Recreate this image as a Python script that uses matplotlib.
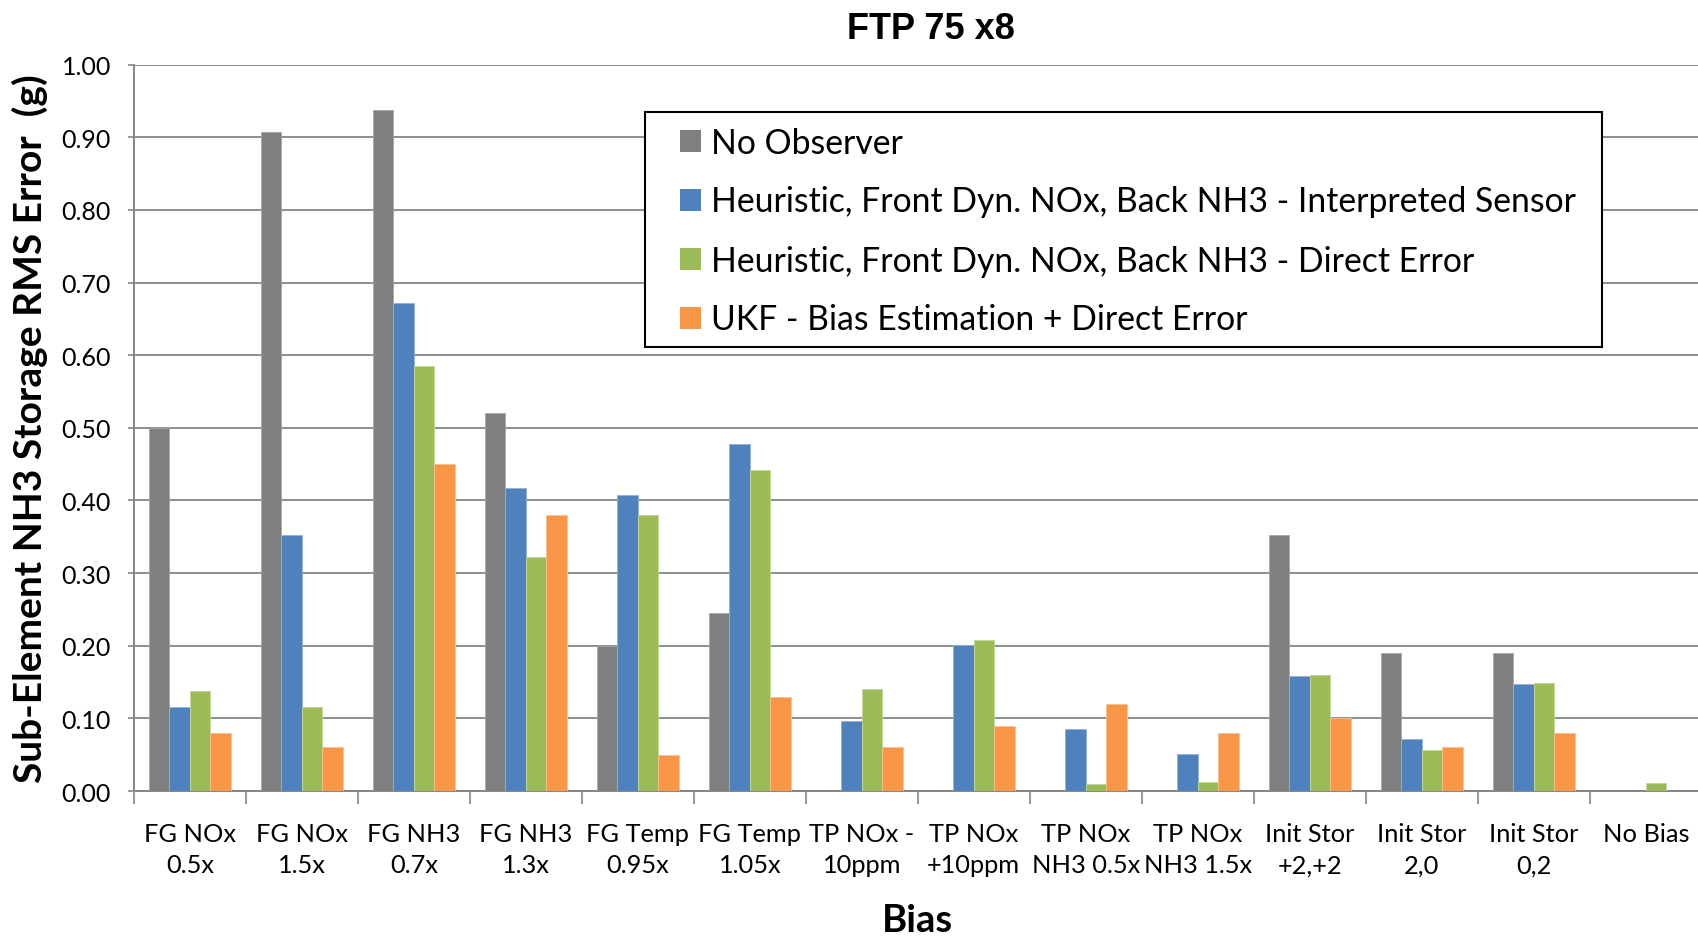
import numpy as np
import matplotlib
matplotlib.use("Agg")
import matplotlib.pyplot as plt
from matplotlib.patches import Patch, Rectangle

plt.rcParams['font.family'] = ['Lato', 'DejaVu Sans']

categories = ["FG NOx\n0.5x", "FG NOx\n1.5x", "FG NH3\n0.7x", "FG NH3\n1.3x",
              "FG Temp\n0.95x", "FG Temp\n1.05x", "TP NOx -\n10ppm", "TP NOx\n+10ppm",
              "TP NOx\nNH3 0.5x", "TP NOx\nNH3 1.5x", "Init Stor\n+2,+2", "Init Stor\n2,0",
              "Init Stor\n0,2", "No Bias"]
series = ["No Observer",
          "Heuristic, Front Dyn. NOx, Back NH3 - Interpreted Sensor",
          "Heuristic, Front Dyn. NOx, Back NH3 - Direct Error",
          "UKF - Bias Estimation + Direct Error"]
no_observer = [0.50, 0.907, 0.937, 0.521, 0.20, 0.245, 0.0, 0.0, 0.0, 0.0, 0.352, 0.19, 0.19, 0.0]
heur_sensor = [0.115, 0.352, 0.672, 0.417, 0.407, 0.478, 0.096, 0.201, 0.085, 0.051, 0.159, 0.072, 0.147, 0.0]
heur_direct = [0.138, 0.115, 0.585, 0.322, 0.380, 0.442, 0.141, 0.208, 0.010, 0.013, 0.160, 0.057, 0.149, 0.011]
ukf_bias = [0.08, 0.06, 0.45, 0.38, 0.05, 0.13, 0.06, 0.09, 0.12, 0.08, 0.10, 0.06, 0.08, 0.0]
yticks = np.arange(0, 1.01, 0.1)

colors = ["#7F7F7F", "#4F81BD", "#9BBB59", "#F79646"]
edges = ["#A6A6A6", "#95B3D7", "#C3D69B", "#FAC090"]
grid_c = "#868686"

W, H = 1699, 937
fig = plt.figure(figsize=(W / 100, H / 100), dpi=100)
ax = fig.add_axes([133.8 / W, 1 - 792 / H, 1568 / W, 726.3 / H])

x = np.arange(len(categories))
bw = 1 / 5.5
for i, (vals, c, ec) in enumerate(zip([no_observer, heur_sensor, heur_direct, ukf_bias], colors, edges)):
    ax.bar(x + (i - 1.5) * bw, vals, width=bw, color=c, edgecolor=ec, linewidth=0.6, zorder=3)

ax.set_xlim(-0.5, len(categories) - 0.5)
ax.set_ylim(0, 1.0)
ax.set_yticks(yticks)
ax.set_yticklabels([f"{v:.2f}" for v in yticks], fontsize=18)
ax.yaxis.grid(True, color=grid_c, linewidth=1.3, zorder=0)
ax.set_axisbelow(True)

ax.set_xticks(x)
ax.set_xticklabels(categories, fontsize=18.3, linespacing=1.45)
ax.set_xticks(np.arange(-0.5, len(categories), 1), minor=True)
ax.tick_params(axis='x', which='major', length=0, pad=22)
ax.tick_params(axis='x', which='minor', length=9.5, width=1.2, color=grid_c)
ax.tick_params(axis='y', length=4.5, width=1.2, color=grid_c, pad=12)

for s in ["top", "right"]:
    ax.spines[s].set_visible(False)
for s in ["left", "bottom"]:
    ax.spines[s].set_color(grid_c)
    ax.spines[s].set_linewidth(1.4)

# legend box drawn separately so the padding can differ per side
fig.patches.append(Rectangle((645 / W, 1 - 348 / H), (1601.7 - 645) / W, (348 - 112.7) / H,
                             transform=fig.transFigure, facecolor="white", edgecolor="black",
                             linewidth=1.5, zorder=4))
handles = [Patch(facecolor=c, edgecolor='none') for c in colors]
leg = fig.legend(handles, series, loc='upper left', bbox_to_anchor=(680 / W, 1 - 127.5 / H),
                 fontsize=24.3, frameon=False, borderaxespad=0, borderpad=0,
                 handlelength=0.62, handleheight=0.62, handletextpad=0.3, labelspacing=0.8)
leg.set_zorder(5)

fig.text(931 / W, 1 - 39.3 / H, "FTP 75 x8", family="Liberation Sans", fontweight="bold",
         fontsize=26, ha="center", va="baseline")
fig.text(917 / W, 1 - 932 / H, "Bias", fontweight="bold", fontsize=27.5, ha="center", va="baseline")
fig.text(30 / W, 1 - 429 / H, "Sub-Element NH3 Storage RMS Error  (g)", fontweight="bold",
         fontsize=28, rotation=90, ha="center", va="center")

fig.savefig("out.png", dpi=100)
